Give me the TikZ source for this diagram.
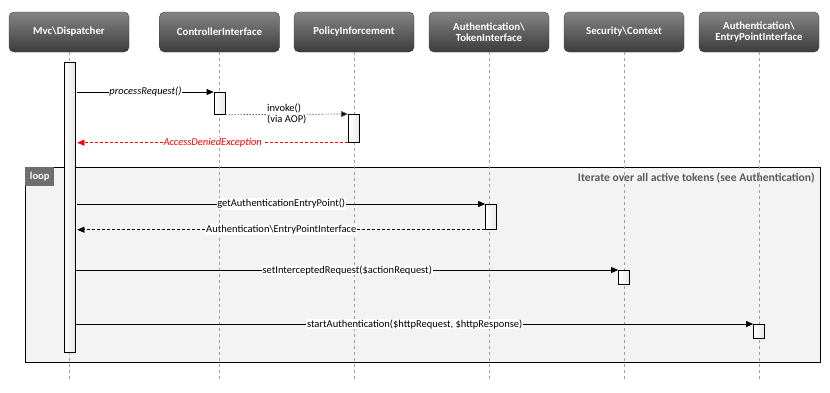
\documentclass[tikz,border=0pt]{standalone}
\usepackage{fontspec}
\setmainfont{Carlito}
\usetikzlibrary{arrows.meta}
\definecolor{hdtop}{HTML}{858585}
\definecolor{hdbot}{HTML}{3C3C3C}
\definecolor{framefill}{HTML}{F3F3F3}
\definecolor{loopgray}{HTML}{6E6E6E}
\definecolor{condgray}{HTML}{5A5A5A}
\definecolor{exred}{HTML}{FF0000}
\begin{document}
\begin{tikzpicture}[x=1pt,y=-1pt,
  head/.style={rounded corners=5pt, top color=hdtop, bottom color=hdbot, draw=hdbot,
    text=white, font=\bfseries\fontsize{10.8}{11.5}\selectfont, minimum width=120pt,
    minimum height=40pt, align=center, inner sep=0pt},
  life/.style={draw=gray!75, dash pattern=on 3pt off 3pt, line width=0.6pt},
  bar/.style={draw, line width=0.7pt, left color=white, right color=gray!18,
    minimum width=11pt, inner sep=0pt, anchor=north},
  msg/.style={-{Triangle[length=7pt,width=6pt]}, line width=0.7pt},
  ret/.style={msg, dash pattern=on 3pt off 2pt},
  lbl/.style={fill=white, inner sep=0.8pt, font=\fontsize{10.5}{11}\selectfont},
]
\useasboundingbox (0,0) rectangle (830,392);
% headers
\node[head] (h1) at (69,32) {Mvc\textbackslash Dispatcher};
\node[head] (h2) at (219.5,32) {ControllerInterface};
\node[head] (h3) at (354,32) {PolicyInforcement};
\node[head] (h4) at (489,32) {Authentication\textbackslash\\TokenInterface};
\node[head] (h5) at (624,32) {Security\textbackslash Context};
\node[head] (h6) at (759,32) {Authentication\textbackslash\\EntryPointInterface};
% loop frame
\node[draw, line width=0.8pt, fill=framefill, minimum width=795pt, minimum height=195pt,
  anchor=north west, inner sep=0pt] (loopf) at (25,167) {};
\node[fill=loopgray, text=white, font=\bfseries\fontsize{10.5}{11}\selectfont,
  anchor=north west, minimum width=29pt, minimum height=19pt, inner sep=0pt]
  (looptag) at (loopf.north west) {loop};
\node[anchor=north east, text=condgray, font=\bfseries\fontsize{11.6}{12}\selectfont, inner sep=0pt]
  (cond) at (815,172.5) {Iterate over all active tokens (see Authentication)};
% lifelines
\foreach \i in {1,...,6} {
  \coordinate (e\i) at (h\i.south |- 0,382);
  \draw[life] (h\i.south) -- (e\i);
}
% activation bars
\node[bar, minimum height=290pt] (b1) at (69.5,62) {};
\node[bar, minimum height=22pt] (b2) at (219.5,92) {};
\node[bar, minimum height=28pt] (b3) at (354,114) {};
\node[bar, minimum height=25pt] (b4) at (491,204) {};
\node[bar, minimum height=14pt] (b5) at (624,270) {};
\node[bar, minimum height=14pt] (b6) at (759,324) {};
% messages
\draw[msg] ([xshift=2pt]b1.east |- b2.north west) -- node[lbl, font=\itshape\fontsize{10.5}{11}\selectfont] {processRequest()} (b2.north west);
\draw[-{Triangle[length=7pt,width=6pt,fill=black]}, line width=0.7pt, draw=gray!80!black, dash pattern=on 1.5pt off 1.5pt] (b2.south east) -- node[lbl, align=left] {invoke()\\(via AOP)} (b3.north west);
\draw[ret, draw=exred, -{Triangle[length=7pt,width=6pt,fill=exred]}, exred] (b3.south west) -- node[lbl, text=exred, font=\itshape\fontsize{10.5}{11}\selectfont] {AccessDeniedException} ([xshift=2pt]b1.east |- b3.south west);
\draw[msg] ([xshift=2pt]b1.east |- b4.north west) -- node[lbl] {getAuthenticationEntryPoint()} (b4.north west);
\draw[ret] (b4.south west) -- node[lbl] {Authentication\textbackslash EntryPointInterface} ([xshift=2pt]b1.east |- b4.south west);
\draw[msg] ([xshift=1pt]b1.east |- b5.north west) -- node[lbl] {setInterceptedRequest(\$actionRequest)} (b5.north west);
\draw[msg] ([xshift=1pt]b1.east |- b6.north west) -- node[lbl] {startAuthentication(\$httpRequest, \$httpResponse)} (b6.north west);
\end{tikzpicture}
\end{document}
